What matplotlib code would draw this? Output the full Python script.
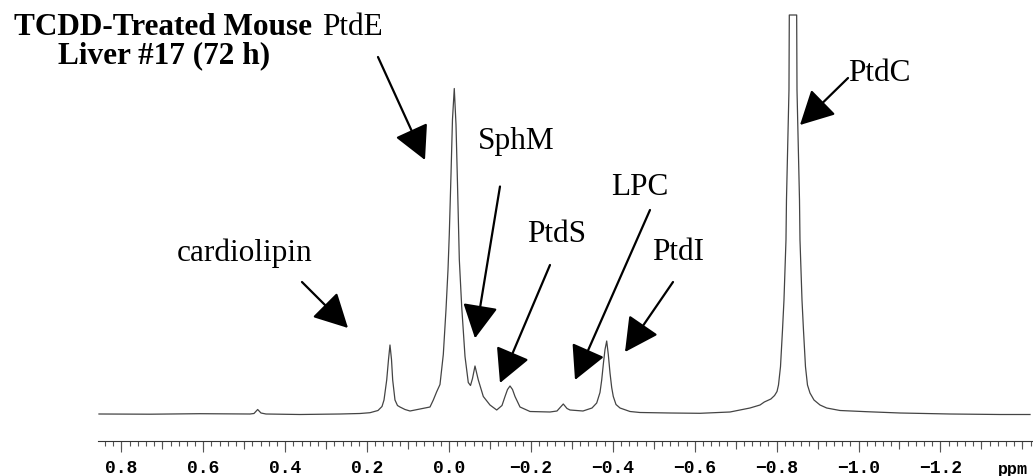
import numpy as np
import matplotlib
matplotlib.use('Agg')
import matplotlib.pyplot as plt
from matplotlib.ticker import FixedLocator, FixedFormatter, MultipleLocator

# 31P NMR trace: chemical shift (ppm) and intensity (arbitrary units)
shift = [0.8547, 0.7302, 0.6081, 0.4860, 0.4762, 0.4672, 0.4591, 0.4469,
         0.3639, 0.2662, 0.2173, 0.1929, 0.1734, 0.1636, 0.1587, 0.1521,
         0.1477, 0.1441, 0.1404, 0.1375, 0.1319, 0.1258, 0.1197, 0.1074,
         0.0952, 0.0708, 0.0464, 0.0383, 0.0300, 0.0220, 0.0139, 0.0073,
         0.0024, -0.0007, -0.0049, -0.0085, -0.0129, -0.0171, -0.0208,
         -0.0252, -0.0310, -0.0391, -0.0471, -0.0525, -0.0574, -0.0635,
         -0.0684, -0.0716, -0.0838, -0.1001, -0.1165, -0.1294, -0.1368,
         -0.1429, -0.1490, -0.1551, -0.1612, -0.1734, -0.1978, -0.2466,
         -0.2637, -0.2791, -0.2882, -0.2955, -0.3272, -0.3492, -0.3607,
         -0.3687, -0.3729, -0.3773, -0.3810, -0.3851, -0.3890, -0.3932,
         -0.3973, -0.4012, -0.4078, -0.4176, -0.4420, -0.4664, -0.5397,
         -0.6129, -0.6862, -0.7350, -0.7595, -0.7700, -0.7780, -0.7860,
         -0.7950, -0.8010, -0.8046, -0.8095, -0.8144, -0.8180, -0.8229,
         -0.8241, -0.8302, -0.8310, -0.8490, -0.8498, -0.8559, -0.8571,
         -0.8620, -0.8656, -0.8705, -0.8754, -0.8815, -0.8913, -0.9060,
         -0.9223, -0.9548, -1.0200, -1.1013, -1.2234, -1.3455, -1.4188]
intensity = [0.5, 0.3, 0.8, 0.5, 1.0, 5.0, 1.5, 0.5,
             0.0, 0.5, 1.0, 1.8, 4.0, 8.0, 14.5, 34.5,
             55.0, 69.5, 55.0, 34.5, 14.5, 9.0, 7.5, 5.0,
             3.5, 5.5, 7.5, 14.5, 22.8, 30.0, 60.0, 105.0,
             145.0, 180.0, 240.0, 295.0, 326.0, 290.0, 230.0,
             155.0, 108.0, 58.0, 32.0, 29.0, 36.0, 48.5,
             40.0, 34.5, 18.0, 9.5, 4.5, 9.0, 18.0,
             25.0, 28.5, 25.0, 18.0, 7.5, 3.0, 2.5,
             3.5, 10.5, 6.0, 4.5, 3.5, 6.5, 11.5,
             22.0, 34.5, 52.0, 65.0, 73.5, 60.0, 41.5,
             27.0, 18.0, 10.0, 6.5, 3.0, 2.0, 1.5,
             1.2, 2.5, 6.5, 9.5, 12.5, 14.0, 15.5,
             19.0, 23.0, 29.5, 47.8, 84.5, 114.5, 174.5,
             214.5, 324.5, 399.5, 399.5, 324.5, 214.5, 174.5,
             114.5, 84.5, 47.8, 29.5, 21.5, 14.5, 9.5,
             6.5, 4.0, 2.8, 1.5, 0.5, 0.0, 0.0]

# peak labels: text, left edge / baseline position, arrow tail and arrow tip
labels = ['cardiolipin', 'SphM', 'PtdS', 'LPC', 'PtdI', 'PtdC']
label_pos = [(0.6642, 153.8), (-0.0708, 265.5), (-0.1905, 172.0),
             (-0.3956, 219.5), (-0.4957, 154.5), (-0.9744, 333.5)]
arrow_tail = [(0.3590, 132.5), (-0.1245, 228.0), (-0.2466, 149.5),
              (-0.4908, 204.5), (-0.5470, 132.5), (-0.9744, 336.5)]
arrow_tip = [(0.2466, 86.5), (-0.0635, 76.2), (-0.1245, 31.5),
             (-0.3077, 34.5), (-0.4298, 62.5), (-0.8571, 289.5)]

title_lines = ['TCDD-Treated Mouse', 'Liver #17 (72 h)']
title_pos = [(1.0623, 379.5), (0.9548, 351.5)]
ptde_pos = (0.3101, 379.5)
ptde_tail = (0.1734, 357.5)
ptde_tip = (0.0586, 254.5)

tick_vals = [0.8, 0.6, 0.4, 0.2, 0.0, -0.2, -0.4, -0.6, -0.8, -1.0, -1.2]
tick_text = ['0.8', '0.6', '0.4', '0.2', '0.0', '\u22120.2', '\u22120.4',
             '\u22120.6', '\u22120.8', '\u22121.0', '\u22121.2']

serif = 'Liberation Serif'
mono = ['Liberation Mono', 'DejaVu Sans Mono']

fig = plt.figure(figsize=(10.33, 4.76), dpi=100)
ax = fig.add_axes([98 / 1033, 0, 1 - 98 / 1033, 1])
ax.set_xlim(0.8571, -1.4261)
ax.set_ylim(-61.5, 414.5)

ax.plot(shift, intensity, color='#444444', lw=0.9)

# ruler along the bottom
ruler_y = 35.5 / 476
for side in ['top', 'left', 'right']:
    ax.spines[side].set_visible(False)
ax.spines['bottom'].set_position(('axes', ruler_y))
ax.spines['bottom'].set_color('#333333')
ax.spines['bottom'].set_linewidth(0.8)
ax.yaxis.set_visible(False)
ax.xaxis.set_major_locator(FixedLocator(tick_vals))
ax.xaxis.set_major_formatter(FixedFormatter(tick_text))
ax.xaxis.set_minor_locator(MultipleLocator(0.02))
ax.tick_params(axis='x', which='major', length=8, width=0.8, color='#555555',
               pad=6, labelsize=13)
ax.tick_params(axis='x', which='minor', length=3.6, width=0.8, color='#555555')
for lab in ax.get_xticklabels():
    lab.set_family(mono)
    lab.set_fontweight('bold')

# intermediate ticks every 0.1 ppm
sec = ax.secondary_xaxis(ruler_y)
sec.xaxis.set_major_locator(MultipleLocator(0.1))
sec.tick_params(axis='x', length=5.4, width=0.8, color='#555555',
                labelbottom=False)
sec.spines['bottom'].set_visible(False)

ax.text(-1.3407, -59.5, 'ppm', family=mono, fontweight='bold', fontsize=12,
        va='baseline', ha='left', clip_on=False)

# heading
for line, (x, y) in zip(title_lines, title_pos):
    ax.text(x, y, line, family=serif, fontweight='bold', fontsize=22.5,
            ha='left', va='baseline', clip_on=False)
ax.text(ptde_pos[0], ptde_pos[1], 'PtdE', family=serif, fontsize=22.5,
        ha='left', va='baseline')

arrow_props = dict(arrowstyle='-|>,head_length=2.1,head_width=1.1',
                   mutation_scale=10, lw=1.6, color='black',
                   shrinkA=0, shrinkB=0)
ax.annotate('', xy=ptde_tip, xytext=ptde_tail, arrowprops=arrow_props)

for name, pos, tail, tip in zip(labels, label_pos, arrow_tail, arrow_tip):
    ax.text(pos[0], pos[1], name, family=serif, fontsize=22.5,
            ha='left', va='baseline')
    ax.annotate('', xy=tip, xytext=tail, arrowprops=arrow_props)

fig.savefig('out.png', dpi=100)
